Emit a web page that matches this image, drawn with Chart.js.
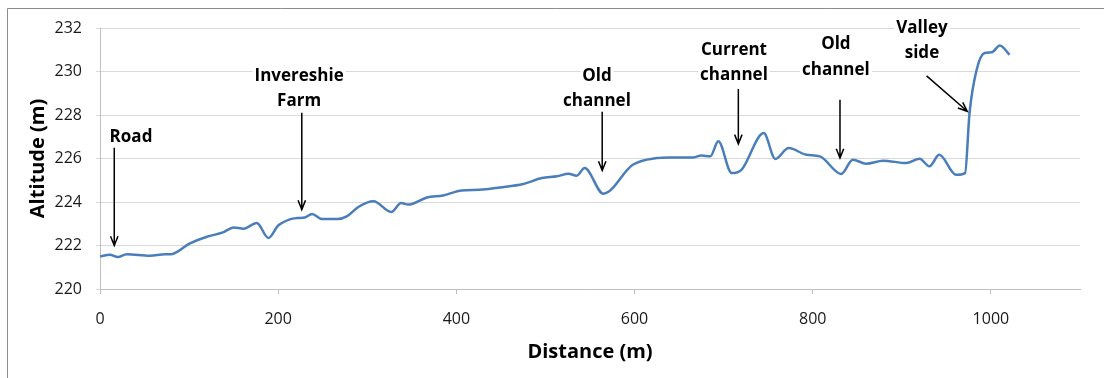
<!DOCTYPE html>
<html><head><meta charset="utf-8">
<script src="https://cdn.jsdelivr.net/npm/chart.js@4.4.1/dist/chart.umd.min.js"></script>
<style>html,body{margin:0;padding:0;background:#fff}#wrap{width:1104px;height:378px;position:relative}canvas{display:block}</style>
</head><body><div id="wrap"><canvas id="c" width="1104" height="378"></canvas></div>
<script>
// ---- data ----
const distances = [0,11,20,30,56,73,79,101,120,138,150,161,176,189,200,213,221,230,238,249,267,277,290,307,327,338,346,367,385,406,426,449,475,496,513,526,535,544,565,598,625,640,666,675,685,694,709,720,745,758,773,793,808,832,845,860,879,905,920,931,942,961,971,976,984,993,1001,1010,1021];
const altitudes = [221.5,221.58,221.47,221.6,221.53,221.6,221.6,222.1,222.4,222.6,222.83,222.77,223.03,222.35,222.92,223.2,223.26,223.29,223.45,223.22,223.22,223.34,223.77,224.03,223.54,223.95,223.88,224.21,224.3,224.53,224.56,224.67,224.83,225.1,225.18,225.3,225.21,225.56,224.38,225.71,226.02,226.05,226.05,226.14,226.1,226.79,225.33,225.48,227.17,225.98,226.48,226.17,226.1,225.29,225.94,225.76,225.9,225.79,225.99,225.64,226.17,225.25,225.33,228.09,230.08,230.85,230.88,231.2,230.77];
const xTickValues = [0,200,400,600,800,1000];
const yTickValues = [220,222,224,226,228,230,232];
const xTitle = 'Distance (m)';
const yTitle = 'Altitude (m)';
// annotations (text lines, first-line centre in data units, arrow start / tip in data units)
const annotationLabels = [["Road"],["Invereshie","Farm"],["Old","channel"],["Current","channel"],["Old","channel"],["Valley","side"]];
const annotationTextAt = [[34.8,227.0],[223.5,229.8],[557.8,229.8],[711.6,231.0],[826,231.25],[922.6,232.0]];
const arrowFrom = [[16,226.5],[226.5,228.1],[563.7,228.15],[716.5,229.2],[830.6,228.7],[927.8,229.8]];
const arrowTo = [[16,222.0],[226.5,223.65],[563.7,225.45],[716.5,226.67],[830.6,226.02],[973.5,228.17]];

const FONT = "'Open Sans', 'DejaVu Sans', sans-serif";

const framePlugin = {
  id: 'frame',
  beforeDraw(chart) {
    const ctx = chart.ctx;
    ctx.save();
    ctx.fillStyle = '#fff';
    ctx.fillRect(0, 0, chart.width, chart.height);
    ctx.strokeStyle = '#8c8c8c';
    ctx.lineWidth = 1;
    ctx.beginPath();
    ctx.moveTo(7.5, chart.height);
    ctx.lineTo(7.5, 8.5);
    ctx.lineTo(chart.width, 8.5);
    ctx.stroke();
    ctx.restore();
  }
};

const annotationPlugin = {
  id: 'annot',
  afterDatasetsDraw(chart) {
    const ctx = chart.ctx;
    const xs = chart.scales.x, ys = chart.scales.y;
    ctx.save();
    ctx.font = "bold 17px " + FONT;
    ctx.textAlign = 'center';
    ctx.textBaseline = 'middle';
    const lh = 25.5;
    annotationLabels.forEach((lines, i) => {
      const cx = xs.getPixelForValue(annotationTextAt[i][0]);
      const cy = ys.getPixelForValue(annotationTextAt[i][1]);
      lines.forEach((t, j) => {
        const w = ctx.measureText(t).width;
        const yy = cy + j * lh;
        ctx.fillStyle = '#fff';
        ctx.fillRect(cx - w / 2 - 2, yy - 10, w + 4, 20);
        ctx.fillStyle = '#000';
        ctx.fillText(t, cx, yy);
      });
      // arrow
      const x1 = xs.getPixelForValue(arrowFrom[i][0]), y1 = ys.getPixelForValue(arrowFrom[i][1]);
      const x2 = xs.getPixelForValue(arrowTo[i][0]), y2 = ys.getPixelForValue(arrowTo[i][1]);
      ctx.strokeStyle = '#000';
      ctx.lineWidth = 1.5;
      ctx.beginPath();
      ctx.moveTo(x1, y1);
      ctx.lineTo(x2, y2);
      const a = Math.atan2(y2 - y1, x2 - x1);
      const hl = 10, ha = 0.38;
      ctx.moveTo(x2 - hl * Math.cos(a - ha), y2 - hl * Math.sin(a - ha));
      ctx.lineTo(x2, y2);
      ctx.lineTo(x2 - hl * Math.cos(a + ha), y2 - hl * Math.sin(a + ha));
      ctx.stroke();
    });
    ctx.restore();
  }
};

function build() {
  new Chart(document.getElementById('c'), {
    type: 'line',
    data: {
      datasets: [{
        data: distances.map((d, i) => ({x: d, y: altitudes[i]})),
        borderColor: '#4a7ebb',
        borderWidth: 2.5,
        pointRadius: 0,
        fill: false,
        cubicInterpolationMode: 'monotone'
      }]
    },
    options: {
      responsive: false,
      animation: false,
      devicePixelRatio: 1,
      layout: {padding: {top: 28, right: 24, left: 0, bottom: 0}},
      plugins: {legend: {display: false}, tooltip: {enabled: false}},
      scales: {
        x: {
          type: 'linear', min: 0, max: 1100,
          afterBuildTicks(s) { s.ticks = xTickValues.map(v => ({value: v})); },
          afterFit(s) { s.height = 89; },
          ticks: {font: {family: FONT, size: 16}, color: '#1a1a1a', padding: 16, maxRotation: 0, includeBounds: false,
                  callback: v => String(v)},
          grid: {drawOnChartArea: false, tickLength: 5, color: '#bfbfbf'},
          border: {color: '#bfbfbf'},
          title: {display: true, text: xTitle, font: {family: FONT, size: 20, weight: 'bold'}, color: '#000', padding: {top: 0, bottom: 14}}
        },
        y: {
          min: 220, max: 232,
          afterBuildTicks(s) { s.ticks = yTickValues.map(v => ({value: v})); },
          afterFit(s) { s.width = 100; },
          ticks: {font: {family: FONT, size: 16}, color: '#1a1a1a', padding: 14, callback: v => String(v)},
          grid: {color: '#d9d9d9', tickLength: 4},
          border: {color: '#bfbfbf'},
          title: {display: true, text: yTitle, font: {family: FONT, size: 20, weight: 'bold'}, color: '#000', padding: {top: 26, bottom: 0}}
        }
      }
    },
    plugins: [framePlugin, annotationPlugin]
  });
}
if (document.fonts && document.fonts.load) {
  Promise.all([document.fonts.load("16px 'Open Sans'"), document.fonts.load("bold 17px 'Open Sans'")]).then(build, build);
} else build();
</script></body></html>
